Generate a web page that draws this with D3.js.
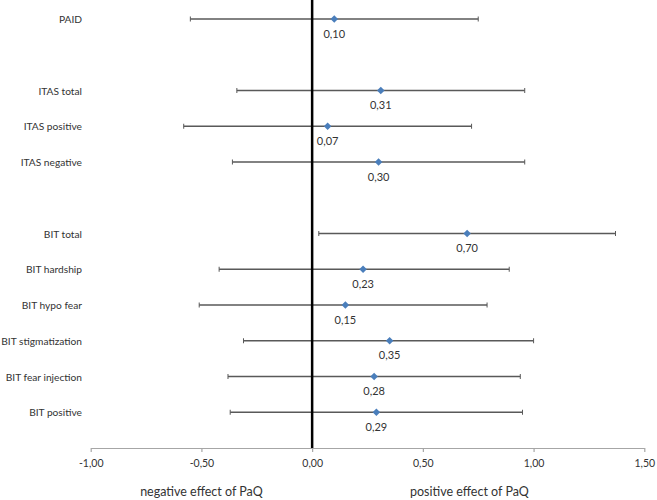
<!DOCTYPE html>
<html>
<head>
<meta charset="utf-8">
<script src="https://cdn.jsdelivr.net/npm/d3@7"></script>
<style>
  html, body { margin: 0; padding: 0; background: #fff; }
  svg { display: block; }
  text { font-family: Lato, "Open Sans", sans-serif; fill: #333; }
</style>
</head>
<body>
<svg id="chart" width="657" height="500"></svg>
<script>
// Data
const labels = ["PAID", "ITAS total", "ITAS positive", "ITAS negative",
  "BIT total", "BIT hardship", "BIT hypo fear", "BIT stigmatization", "BIT fear injection", "BIT positive"];
const slots = [0, 2, 3, 4, 6, 7, 8, 9, 10, 11];
const estimates = [0.10, 0.31, 0.07, 0.30, 0.70, 0.23, 0.15, 0.35, 0.28, 0.29];
const lower = [-0.55, -0.34, -0.58, -0.36, 0.03, -0.42, -0.51, -0.31, -0.38, -0.37];
const upper = [0.75, 0.96, 0.72, 0.96, 1.37, 0.89, 0.79, 1.00, 0.94, 0.95];
const tickValues = [-1.0, -0.5, 0.0, 0.5, 1.0, 1.5];
const axisNotes = [{text: "negative effect of PaQ", at: -0.5}, {text: "positive effect of PaQ", at: 0.71}];

const fmt = v => (v < 0 ? "-" : "") + Math.abs(v).toFixed(2).replace(".", ",");

const svg = d3.select("#chart");
const x = d3.scaleLinear().domain([-1, 1.5]).range([90.7, 644.3]);
const y = d3.scaleLinear().domain([0, 12]).range([19, 448]);

const rows = labels.map((l, i) => ({label: l, slot: slots[i], est: estimates[i], lo: lower[i], hi: upper[i]}));

// x axis
const axis = d3.axisBottom(x).tickValues(tickValues).tickSize(4).tickSizeOuter(0).tickFormat(fmt).tickPadding(8);
const gA = svg.append("g").attr("transform", `translate(0,${y(12)})`).call(axis);
gA.select(".domain").attr("stroke", "#a6a6a6").attr("stroke-width", 1.2);
gA.selectAll(".tick line").attr("stroke", "#a6a6a6").attr("stroke-width", 1.2);
gA.selectAll(".tick text").attr("font-family", "Lato, sans-serif").attr("font-size", 10.5).attr("fill", "#333");

// error bars
const g = svg.append("g");
g.selectAll("line.ci").data(rows).join("line")
  .attr("x1", d => x(d.lo)).attr("x2", d => x(d.hi))
  .attr("y1", d => y(d.slot)).attr("y2", d => y(d.slot))
  .attr("stroke", "#595959").attr("stroke-width", 1.3);
g.selectAll("line.capL").data(rows).join("line")
  .attr("x1", d => x(d.lo)).attr("x2", d => x(d.lo))
  .attr("y1", d => y(d.slot) - 2.5).attr("y2", d => y(d.slot) + 2.5)
  .attr("stroke", "#595959").attr("stroke-width", 1);
g.selectAll("line.capR").data(rows).join("line")
  .attr("x1", d => x(d.hi)).attr("x2", d => x(d.hi))
  .attr("y1", d => y(d.slot) - 2.5).attr("y2", d => y(d.slot) + 2.5)
  .attr("stroke", "#595959").attr("stroke-width", 1);

// zero line
svg.append("line").attr("x1", x(0)).attr("x2", x(0)).attr("y1", 0).attr("y2", y(12))
  .attr("stroke", "#000").attr("stroke-width", 2.5);

// markers
g.selectAll("path.pt").data(rows).join("path")
  .attr("transform", d => `translate(${x(d.est)},${y(d.slot)})`)
  .attr("d", d3.symbol(d3.symbolDiamond2, 36))
  .attr("fill", "#4a7ebb");

// value labels
g.selectAll("text.val").data(rows).join("text")
  .attr("x", d => x(d.est)).attr("y", d => y(d.slot) + 18.5)
  .attr("text-anchor", "middle").attr("font-size", 11)
  .text(d => fmt(d.est));

// row labels
g.selectAll("text.lab").data(rows).join("text")
  .attr("x", 82).attr("y", d => y(d.slot) + 4)
  .attr("text-anchor", "end").attr("font-size", 10.2)
  .text(d => d.label);

// notes
svg.selectAll("text.note").data(axisNotes).join("text")
  .attr("x", d => x(d.at)).attr("y", 496)
  .attr("text-anchor", "middle").attr("font-size", 12.5)
  .text(d => d.text);
</script>
</body>
</html>
